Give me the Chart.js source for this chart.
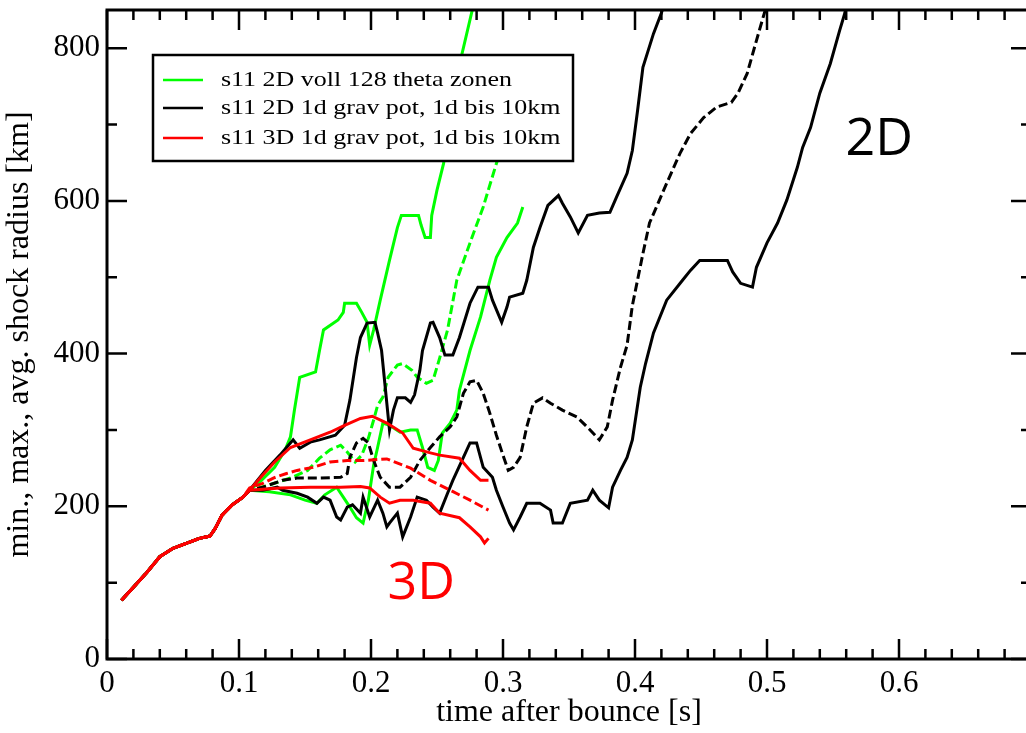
<!DOCTYPE html>
<html>
<head>
<meta charset="utf-8">
<script src="https://cdn.jsdelivr.net/npm/chart.js@4/dist/chart.umd.min.js"></script>
<style>
  html, body { margin: 0; padding: 0; background: #fff; overflow: hidden; }
  #wrap { width: 1045px; height: 733px; }
</style>
</head>
<body>
<div id="wrap"><canvas id="c" width="1045" height="733"></canvas></div>
<script>
// Shock radius evolution after bounce: min / max / average for three s11 runs.
// Shared early phase (all runs coincide before ~0.1 s)
const earlyT = [0.011, 0.020, 0.030, 0.040, 0.050, 0.061, 0.070, 0.078, 0.082, 0.087, 0.095, 0.103];
const earlyR = [77, 94, 113, 134, 145, 152, 158, 161, 171, 188, 202, 212];

// s11 2D, full gravity, 128 theta zones
const greenMaxT = [0.108,0.117,0.127,0.135,0.139,0.142,0.146,0.158,0.161,0.164,0.175,0.179,0.180,0.189,0.193,0.197,0.199,0.202,0.207,0.214,0.220,0.223,0.236,0.238,0.241,0.245,0.246,0.250,0.255,0.261,0.269,0.277,0.280];
const greenMaxR = [221,234,251,274,291,326,369,376,404,431,444,454,466,466,454,441,411,431,470,522,565,581,581,568,552,552,581,614,649,719,793,852,889];
const greenAvgT = [0.108,0.123,0.139,0.152,0.161,0.169,0.177,0.182,0.188,0.193,0.198,0.202,0.205,0.209,0.213,0.220,0.224,0.231,0.235,0.242,0.247,0.252,0.258,0.265,0.275,0.285,0.295,0.305,0.313];
const greenAvgR = [221,228,237,247,263,274,280,271,258,267,289,313,332,343,369,385,387,378,369,361,365,394,431,496,545,592,649,699,745];
const greenMinT = [0.108,0.123,0.139,0.150,0.159,0.165,0.174,0.179,0.184,0.189,0.194,0.198,0.202,0.205,0.209,0.214,0.222,0.230,0.235,0.239,0.243,0.248,0.251,0.254,0.260,0.265,0.267,0.275,0.283,0.290,0.295,0.303,0.311,0.315];
const greenMinR = [221,219,215,208,204,215,225,212,199,185,178,208,254,277,309,306,297,300,300,277,251,247,260,296,309,326,352,404,448,496,526,552,571,592];

// s11 2D, 1d gravitational potential, 1d up to 10 km
const blackMaxT = [0.108,0.120,0.131,0.136,0.141,0.146,0.154,0.161,0.173,0.180,0.184,0.189,0.192,0.197,0.203,0.205,0.208,0.211,0.214,0.217,0.220,0.226,0.230,0.233,0.237,0.239,0.245,0.247,0.252,0.256,0.262,0.267,0.275,0.281,0.289,0.292,0.299,0.303,0.305,0.315,0.318,0.323,0.328,0.334,0.342,0.345,0.351,0.357,0.364,0.373,0.381,0.386,0.394,0.398,0.402,0.406,0.414,0.420,0.423];
const blackMaxR = [221,247,267,277,287,276,284,287,293,306,339,395,421,440,441,427,404,352,300,326,342,342,336,346,378,404,440,441,421,398,398,421,466,487,487,470,441,461,474,479,496,539,565,594,607,597,579,558,581,584,585,605,636,666,719,775,819,846,863];
const blackAvgT = [0.108,0.118,0.133,0.144,0.161,0.177,0.182,0.184,0.189,0.194,0.198,0.202,0.207,0.214,0.222,0.230,0.237,0.245,0.252,0.260,0.265,0.270,0.275,0.280,0.285,0.290,0.295,0.300,0.304,0.308,0.313,0.318,0.323,0.330,0.336,0.345,0.356,0.366,0.373,0.379,0.383,0.389,0.394,0.398,0.406,0.411,0.424,0.434,0.442,0.452,0.462,0.473,0.478,0.485,0.492,0.498,0.501];
const blackAvgR = [221,225,234,237,237,238,243,264,283,289,283,260,238,225,225,238,260,277,291,304,317,348,363,365,348,322,293,267,247,251,264,304,335,342,335,326,317,300,287,304,339,382,411,463,531,571,623,662,688,709,723,729,741,767,810,846,863];
const blackMinT = [0.108,0.118,0.129,0.133,0.144,0.152,0.159,0.164,0.169,0.174,0.177,0.182,0.186,0.192,0.194,0.199,0.205,0.209,0.212,0.214,0.220,0.224,0.230,0.235,0.242,0.247,0.252,0.258,0.262,0.270,0.275,0.280,0.285,0.292,0.295,0.300,0.305,0.308,0.313,0.318,0.328,0.336,0.338,0.345,0.351,0.364,0.368,0.373,0.380,0.383,0.389,0.394,0.398,0.404,0.408,0.414,0.424,0.436,0.442,0.449,0.470,0.474,0.480,0.489,0.492,0.500,0.508,0.515,0.523,0.527,0.533,0.540,0.548,0.555,0.559,0.561];
const blackMinR = [221,221,225,221,217,212,204,212,208,186,182,199,202,191,212,186,208,191,173,178,191,160,186,212,208,199,191,217,234,264,283,283,251,238,221,199,178,169,186,204,204,195,178,178,204,208,221,208,198,225,247,264,287,356,387,427,470,496,509,522,522,507,492,487,513,545,571,601,644,670,696,741,780,823,846,863];

// s11 3D, 1d gravitational potential, 1d up to 10 km
const redMaxT = [0.108,0.116,0.127,0.139,0.154,0.169,0.180,0.192,0.201,0.212,0.224,0.232,0.245,0.252,0.267,0.275,0.283,0.289];
const redMaxR = [221,237,258,277,287,297,306,315,318,309,296,276,270,267,263,247,234,234];
const redAvgT = [0.108,0.118,0.126,0.136,0.144,0.156,0.169,0.182,0.194,0.212,0.230,0.245,0.260,0.275,0.289];
const redAvgR = [224,230,237,243,247,251,258,260,260,262,250,234,221,208,195];
const redMinT = [0.108,0.131,0.154,0.177,0.192,0.199,0.207,0.214,0.222,0.232,0.245,0.252,0.267,0.275,0.283,0.286,0.289];
const redMinR = [221,224,225,225,226,224,212,204,208,208,204,191,185,173,160,152,158];

// Axis ticks and legend entries
const xTickValues = [0, 0.1, 0.2, 0.3, 0.4, 0.5, 0.6];
const xTickLabels = ['0', '0.1', '0.2', '0.3', '0.4', '0.5', '0.6'];
const yTickValues = [0, 200, 400, 600, 800];
const yTickLabels = ['0', '200', '400', '600', '800'];
const legendLabels = ['s11 2D voll 128 theta zonen', 's11 2D 1d grav pot, 1d bis 10km', 's11 3D 1d grav pot, 1d bis 10km'];
const legendColors = ['#00ff00', '#000000', '#ff0000'];

const SERIF = '"Liberation Serif", "Times New Roman", serif';

function series(t, r) {
  const ts = earlyT.concat(t);
  const rs = earlyR.concat(r);
  return ts.map((v, i) => ({ x: v, y: rs[i] }));
}

function line(data, color, dashed, order) {
  return {
    data,
    borderColor: color,
    borderWidth: 3,
    borderDash: dashed ? [9, 4] : [],
    pointRadius: 0,
    pointHoverRadius: 0,
    fill: false,
    tension: 0,
    order
  };
}

// Inward ticks on all four sides plus the frame
const frameTicks = {
  id: 'frameTicks',
  afterDatasetsDraw(chart) {
    const { ctx, chartArea: a, scales: { x, y } } = chart;
    ctx.save();
    ctx.strokeStyle = '#000';
    ctx.lineWidth = 2.5;
    ctx.beginPath();
    for (let i = 0; i <= 35; i++) {
      const px = x.getPixelForValue(i * 0.02);
      const len = i % 5 === 0 ? 20 : 10;
      ctx.moveTo(px, a.bottom); ctx.lineTo(px, a.bottom - len);
      ctx.moveTo(px, a.top); ctx.lineTo(px, a.top + len);
    }
    for (let j = 0; j <= 8; j++) {
      const py = y.getPixelForValue(j * 100);
      const len = j % 2 === 0 ? 20 : 10;
      ctx.moveTo(a.left, py); ctx.lineTo(a.left + len, py);
      ctx.moveTo(a.right, py); ctx.lineTo(a.right - len, py);
    }
    ctx.stroke();
    ctx.lineWidth = 3;
    ctx.strokeRect(a.left, a.top, a.right - a.left, a.bottom - a.top);
    ctx.restore();
  }
};

// Boxed legend in the upper left of the plot, plus the 2D / 3D tags
const boxLegend = {
  id: 'boxLegend',
  afterDraw(chart) {
    const { ctx, scales: { x, y } } = chart;
    ctx.save();
    const bx = 153, by = 55, bw = 420, bh = 106;
    ctx.fillStyle = '#fff';
    ctx.fillRect(bx, by, bw, bh);
    ctx.strokeStyle = '#000';
    ctx.lineWidth = 2.5;
    ctx.strokeRect(bx, by, bw, bh);
    const rows = [80, 108, 138];
    legendLabels.forEach((txt, i) => {
      ctx.strokeStyle = legendColors[i];
      ctx.lineWidth = 2.5;
      ctx.beginPath();
      ctx.moveTo(163, rows[i]);
      ctx.lineTo(203, rows[i]);
      ctx.stroke();
      ctx.save();
      ctx.translate(221, rows[i]);
      ctx.scale(1.18, 1);
      ctx.fillStyle = '#000';
      ctx.font = '22px ' + SERIF;
      ctx.textAlign = 'left';
      ctx.textBaseline = 'middle';
      ctx.fillText(txt, 0, 0);
      ctx.restore();
    });

    ctx.font = '52px "Open Sans", "Noto Sans", sans-serif';
    ctx.textAlign = 'center';
    ctx.textBaseline = 'middle';
    ctx.fillStyle = '#000';
    ctx.fillText('2D', x.getPixelForValue(0.585), y.getPixelForValue(680));
    ctx.fillStyle = '#ff0000';
    ctx.fillText('3D', x.getPixelForValue(0.238), y.getPixelForValue(98));
    ctx.restore();
  }
};

new Chart(document.getElementById('c'), {
  type: 'line',
  data: {
    datasets: [
      line(series(greenMaxT, greenMaxR), '#00ff00', false, 3),
      line(series(greenAvgT, greenAvgR), '#00ff00', true, 3),
      line(series(greenMinT, greenMinR), '#00ff00', false, 3),
      line(series(blackMaxT, blackMaxR), '#000000', false, 2),
      line(series(blackAvgT, blackAvgR), '#000000', true, 2),
      line(series(blackMinT, blackMinR), '#000000', false, 2),
      line(series(redMaxT, redMaxR), '#ff0000', false, 1),
      line(series(redAvgT, redAvgR), '#ff0000', true, 1),
      line(series(redMinT, redMinR), '#ff0000', false, 1)
    ]
  },
  options: {
    responsive: false,
    animation: false,
    devicePixelRatio: 1,
    layout: { padding: { top: 10, right: 14, left: 0, bottom: 0 } },
    plugins: { legend: { display: false }, tooltip: { enabled: false } },
    scales: {
      x: {
        type: 'linear',
        min: 0,
        max: 0.7,
        grid: { display: false, drawTicks: false },
        border: { display: false },
        afterBuildTicks: (s) => { s.ticks = xTickValues.map(v => ({ value: v })); },
        afterFit: (s) => { s.height = 74; s.paddingLeft = 0; s.paddingRight = 0; },
        ticks: {
          color: '#000',
          padding: 6,
          maxRotation: 0,
          font: { family: SERIF, size: 31 },
          callback: (v) => xTickLabels[xTickValues.indexOf(v)] ?? ''
        },
        title: {
          display: true,
          text: 'time after bounce [s]',
          color: '#000',
          font: { family: SERIF, size: 32 },
          padding: { top: 0, bottom: 1 }
        }
      },
      y: {
        type: 'linear',
        min: 0,
        max: 850,
        grid: { display: false, drawTicks: false },
        border: { display: false },
        afterBuildTicks: (s) => { s.ticks = yTickValues.map(v => ({ value: v })); },
        afterFit: (s) => { s.width = 107; s.paddingTop = 0; s.paddingBottom = 0; },
        ticks: {
          color: '#000',
          padding: 7,
          font: { family: SERIF, size: 31 },
          callback: (v) => yTickLabels[yTickValues.indexOf(v)] ?? ''
        },
        title: {
          display: true,
          text: 'min., max., avg. shock radius [km]',
          color: '#000',
          font: { family: SERIF, size: 32 },
          padding: { top: 0, bottom: 12 }
        }
      }
    }
  },
  plugins: [frameTicks, boxLegend]
});
</script>
</body>
</html>
